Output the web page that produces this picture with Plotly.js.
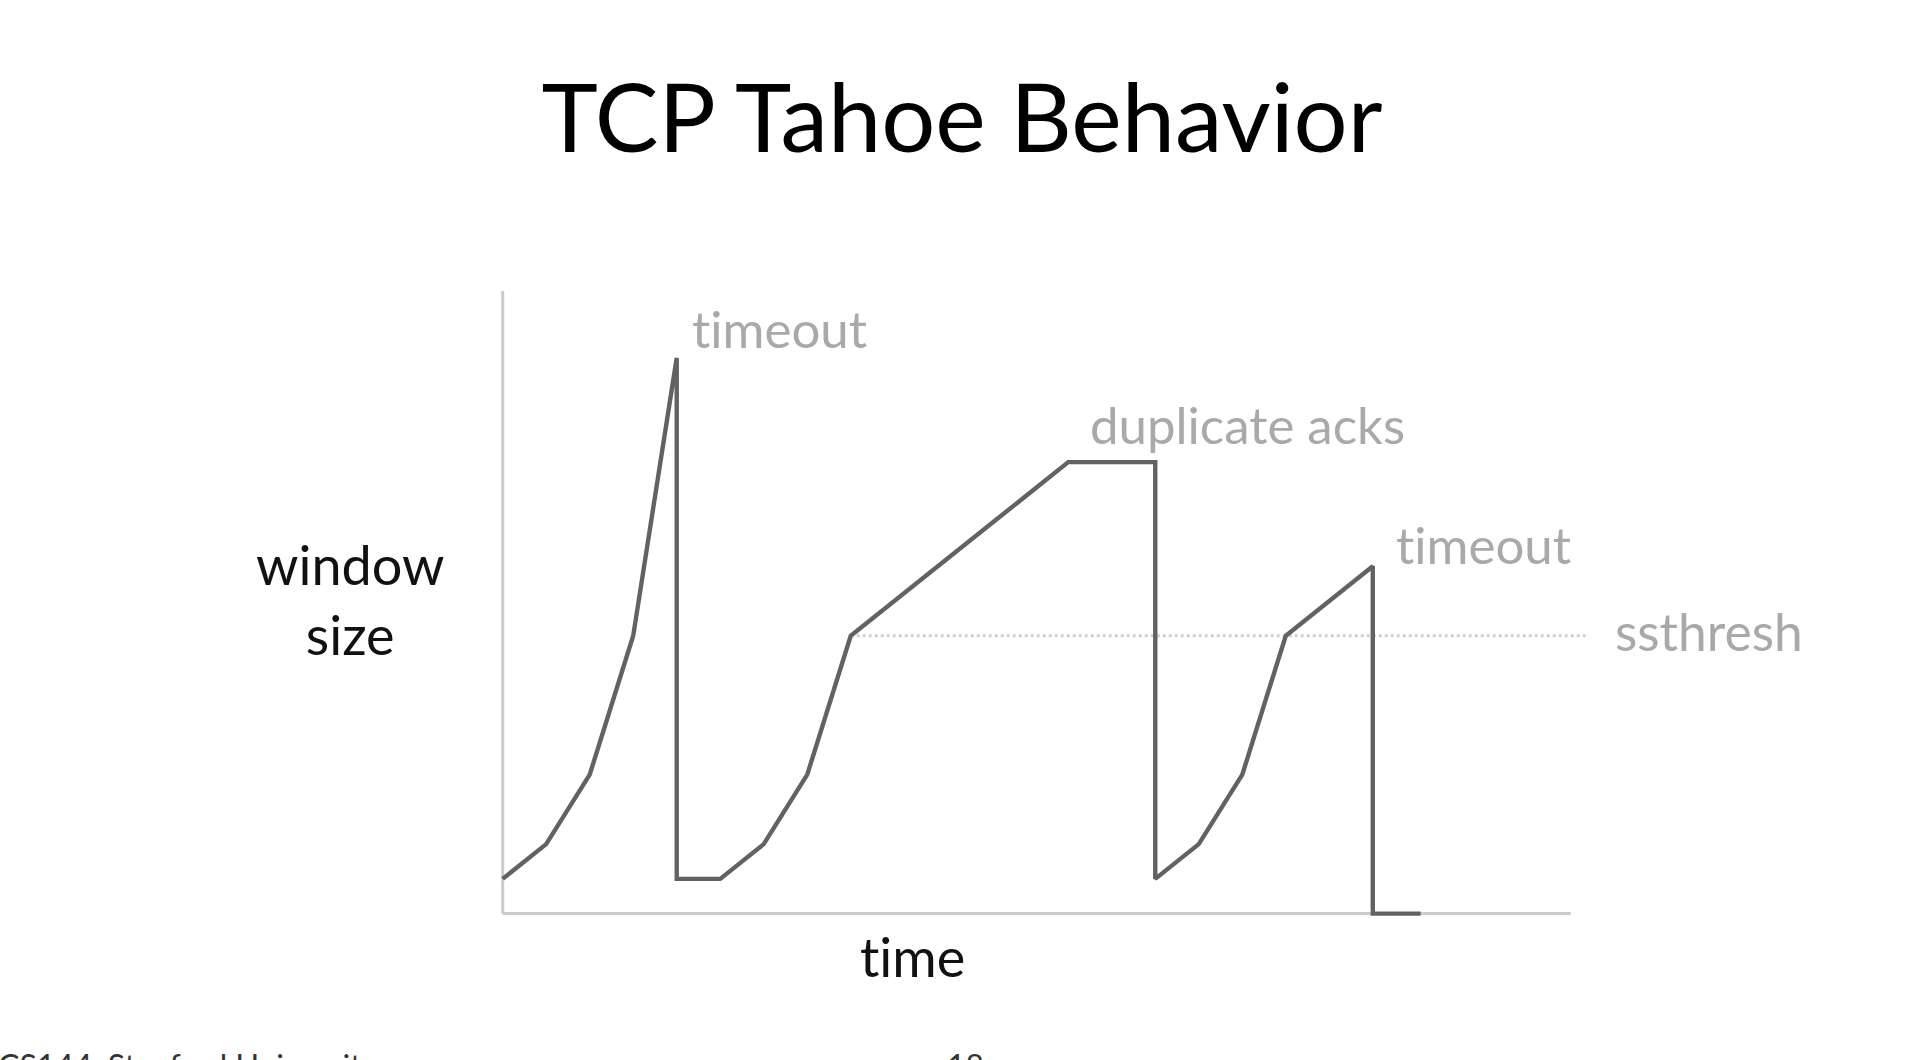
<!DOCTYPE html>
<html>
<head>
<meta charset="utf-8">
<script src="https://cdn.plot.ly/plotly-3.0.1.min.js"></script>
<style>
html,body{margin:0;padding:0;background:#fff;}
#chart{width:1924px;height:1060px;}
text{font-variant-ligatures:none !important;font-feature-settings:"liga" 0,"clig" 0 !important;}
</style>
</head>
<body>
<div id="chart"></div>
<script>
// ---- data (time units / window size in segments) ----
const timeX   = [0, 1, 2, 3, 4, 4, 5, 6, 7, 8, 13, 15, 15, 16, 17, 18, 20, 20, 21.1];
const windowY = [1, 2, 4, 8, 16, 1, 1, 2, 4, 8, 13, 13, 1, 2, 4, 8, 10, 0, 0];
const ssthreshValue = 8;
const ssthreshX = [8, 24.97];
const axisXEnd = 24.55;
const axisYEnd = 17.93;
const titleText = "TCP Tahoe Behavior";
const yLabel = "window<br>size";
const xLabel = "time";
const eventLabels = ["timeout", "duplicate acks", "timeout", "ssthresh"];
const footerLeft = "CS144, Stanford University";
const footerPage = "18";

// ---- layout geometry ----
const W = 1924, H = 1060;
const L = 494.3, R = 324.8, T = 285, B = 135.6;
const plotW = W - L - R, plotH = H - T - B;
const px = x => (x - L) / plotW;
const py = y => (H - B - y) / plotH;

const font = "Lato, 'Open Sans', 'DejaVu Sans', sans-serif";
const grey = "#a9a9a9";

const traces = [{
  x: timeX, y: windowY, type: "scatter", mode: "lines",
  line: {color: "#626262", width: 4.4}, hoverinfo: "skip"
}];

const shapes = [
  {type: "line", xref: "x", yref: "y", x0: ssthreshX[0], x1: ssthreshX[1], y0: ssthreshValue, y1: ssthreshValue,
   line: {color: "#cfcfcf", width: 3, dash: "dot"}, layer: "below"},
  {type: "line", xref: "x", yref: "y", x0: 0, x1: axisXEnd, y0: 0, y1: 0,
   line: {color: "#cbcbcb", width: 3}, layer: "below"},
  {type: "line", xref: "x", yref: "y", x0: 0, x1: 0, y0: 0, y1: axisYEnd,
   line: {color: "#cbcbcb", width: 3}, layer: "below"}
];

const ann = (text, x, y, size, color, opts) => Object.assign({
  text: text, xref: "paper", yref: "paper", x: px(x), y: py(y),
  xanchor: "center", yanchor: "middle", showarrow: false,
  font: {family: font, size: size, color: color}
}, opts || {});

const annotations = [
  ann(yLabel, 350, 600, 54, "#111111"),
  ann(xLabel, 913, 957, 54, "#111111"),
  ann(eventLabels[0], 780, 329, 51, grey),
  ann(eventLabels[1], 1248, 425, 51, grey),
  ann(eventLabels[2], 1484, 545, 51, grey),
  ann(eventLabels[3], 1709, 631, 51.5, grey),
  ann(footerLeft, -4, 1044, 32, "#333333", {xanchor: "left", yanchor: "top"}),
  ann(footerPage, 966, 1044, 32, "#333333", {yanchor: "top"})
];

const layout = {
  width: W, height: H, autosize: false,
  margin: {l: L, r: R, t: T, b: B, pad: 0},
  paper_bgcolor: "#ffffff", plot_bgcolor: "#ffffff",
  showlegend: false,
  title: {text: titleText, x: 0.5, xref: "container", xanchor: "center",
          y: 1 - 119 / H, yref: "container", yanchor: "middle",
          font: {family: font, size: 95.5, color: "#000000"}},
  xaxis: {range: [-0.2, 25.2], showgrid: false, zeroline: false, showline: false,
          showticklabels: false, ticks: "", fixedrange: true},
  yaxis: {range: [-0.3, 18.1], showgrid: false, zeroline: false, showline: false,
          showticklabels: false, ticks: "", fixedrange: true},
  shapes: shapes,
  annotations: annotations
};

Plotly.newPlot("chart", traces, layout, {staticPlot: true, displayModeBar: false});
</script>
</body>
</html>
